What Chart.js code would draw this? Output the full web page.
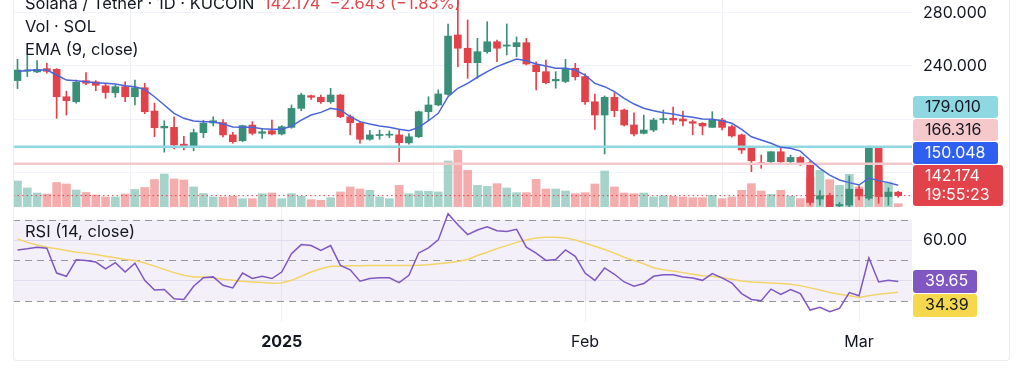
<!DOCTYPE html>
<html>
<head>
<meta charset="utf-8">
<script src="https://cdn.jsdelivr.net/npm/chart.js@4.4.1/dist/chart.umd.min.js"></script>
<style>
  body{margin:0;background:#fff;}
  #wrap{position:relative;width:1024px;height:374px;overflow:hidden;background:#fff;font-family:Inter,"Noto Sans",sans-serif;}
  #wrap canvas{position:absolute;left:0;}
  .lbl{position:absolute;left:25px;font-size:16.5px;line-height:18px;color:#131722;white-space:pre;}
  .red{color:#e0464e;}
  #frame{position:absolute;left:13px;top:-4px;width:995px;height:364px;border:1px solid #ececec;border-top:none;border-radius:0 0 4px 4px;pointer-events:none;}
</style>
</head>
<body>
<div id="wrap">
  <canvas id="priceCanvas" width="1024" height="207" style="top:0"></canvas>
  <canvas id="rsiCanvas" width="1024" height="167" style="top:207px"></canvas>
  <div id="frame"></div>
  <div class="lbl" style="top:-6px">Solana / Tether · 1D · KUCOIN  <span class="red" id="lastInfo"></span></div>
  <div class="lbl" style="top:17px">Vol · SOL</div>
  <div class="lbl" style="top:40px">EMA (9, close)</div>
  <div class="lbl" style="top:222px">RSI (14, close)</div>
</div>
<script>
/* Daily candles, 5 Dec 2024 .. 5 Mar 2025 (index 0 = 5 Dec) */
const openP=[229,236,235.5,238,237.5,216.8,213,228.9,228,225,
  219.8,224.4,216.8,223.6,206,193.3,193.7,181,179.6,189.7,
  197,197.3,188,183.6,195.4,189.2,191.2,188.7,193.7,208,
  217.6,216.4,213,218.1,201.7,196.8,184.7,187.5,187.8,188,
  182,186.6,205.5,210.6,218.6,263.4,253.4,242.5,250.8,258.3,
  255,254.6,257.6,240.8,235.7,228.8,228.3,238.3,232,213,
  203,216.4,206.8,195.5,189.2,191.7,199.5,200.5,200,198,
  196.8,193.7,199.2,194.2,188,177.9,167,167.8,175.3,167.8,
  171,167,139.6,142.3,134.5,135,147,140.2,177.9,141.5,
  144.817];
const highP=[245,248,244,242,238,221,229.4,235,229,227,
  225.7,228,229.4,227,212,198.7,201.7,187,192.4,199,
  201.7,199.5,190,195.3,198,193,199.2,195,210.6,219.4,
  218.1,218.1,223.2,218.6,203,198,191.4,191.7,191,191.7,
  189,206,216.8,222,271.7,295,274.7,260.9,273.4,259.6,
  271.7,262,260.9,243.2,244.5,235.7,245,242,234,218.9,
  217.4,219.8,207.5,204.7,203,200.5,206.8,209,206,199.2,
  197.3,205.5,200.5,195.5,188.7,179.1,172.8,175.5,179.1,172.8,
  172,168.5,146,144,137,157,149.5,179.5,179.1,148,
  145.5];
const lowP=[223,232,235,234.5,200.5,203,212,226,221.4,215.6,
  216.4,213,210.6,204,186.6,175,177.4,176.6,176,186,
  194.7,186.4,181.7,182.9,188,185.4,188,188,193,206.2,
  214.7,211.7,211.8,201,188,181.7,184,184.7,186,167.8,
  181,186,198.7,210,217.9,239.5,230.7,230.7,249.6,243.2,
  248.3,247,240.8,221.9,226.4,223.2,227.4,229.4,211,192.2,
  173.6,201.7,194.7,187.2,188.7,190.4,196.8,196,194.7,188,
  188,193.7,191.7,186.2,174,160.2,162.8,167,166.6,167,
  165,135,135,130,127,133,138.9,139,136.4,135,
  141];
const closeP=[237,237,237.5,236,216.8,213.8,227.7,227,225.4,220,
  224.4,216.8,223.6,205.5,193.4,194.5,180.4,179.5,189.7,196.8,
  198.7,188,182.9,195,189.2,190.4,188.7,194.2,208,218.1,
  216.4,213,218.1,201.7,197.2,184.7,188,188.3,188.3,182.1,
  186.6,205.5,210.6,218.9,262.6,253.4,242.5,250.8,258.3,253.4,
  255.9,257.6,241.5,235.7,227.4,229.9,238.3,231.9,213,203,
  216.4,206.3,195.5,188.7,191.7,199.2,200.3,199.2,198.5,196.8,
  194.7,199.2,193.7,187.2,176.6,168.5,166,175.3,167.8,171,
  167,137,142,133.5,135.5,147,141.9,177.9,141.5,144.817,
  142.174];
/* Volume in thousand SOL */
const volume=[780,570,420,390,735,690,510,435,360,300,
  300,390,525,585,825,990,840,810,600,405,
  300,300,320,250,250,400,420,250,400,320,
  220,200,280,450,600,540,500,300,250,650,
  400,480,470,450,1380,1700,1100,650,620,700,
  570,430,430,830,540,540,480,400,430,690,
  1080,600,420,400,420,300,340,320,300,280,
  280,350,250,300,500,700,480,380,500,320,
  250,900,1100,820,650,980,600,1200,1200,750,
  100];
const ema9=[235.7,236.7,237,237,233.2,229.4,228.9,228.2,227.4,226.9,
  226.4,225.1,224.4,222.4,216.8,210.6,204.3,200.5,198.5,198,
  198,196.2,194,193.7,193.7,192.7,192.2,192.2,194.7,199.2,
  203,205,208.1,206.8,201.8,198,196.2,194.7,193.7,192.2,
  191.2,193.7,198.7,204.3,216.8,223.2,226.9,231.5,235.7,239.5,
  242.5,245.3,244,241.5,240,238.3,238.3,237,233.2,226.9,
  224.4,220.6,215.6,211.3,208.1,206.3,204.8,203.8,202.3,201.3,
  200,199.8,198.7,196.8,192.2,186.6,184.2,181.7,178.6,177.9,
  175.8,169.1,162.8,157.7,154,152,150.2,155.5,153.5,152,
  150.048];
const rsi14=[55.1,55.7,56.5,56,43.8,42.2,50.3,50,49.2,45.9,
  48.9,44.3,48.7,40.2,35.4,35.7,31.1,30.8,37.3,41.5,
  41.9,37.8,36.5,43.8,41.1,42.2,41.1,44.3,53.3,57.8,
  57.3,54.9,57.3,47.6,45.4,39.8,41.1,41.5,41.5,39.1,
  42.7,53.7,56.2,60.1,73,67.6,62.7,65,66.6,64.6,
  64.3,65.3,56.5,53.6,50,50.5,55.2,52,43.8,40.2,
  46.3,43.2,39.4,37.3,38.6,42.2,43,43,41.9,41.4,
  40.2,43.5,41.4,38.9,33.7,30.8,30.2,35.9,33.3,35.7,
  33.7,25.6,26.9,24.8,26.4,34.2,32.6,51.3,39.4,40.2,
  39.65];
const rsiMa=[60.6,58.9,57.6,56.5,55.7,54.9,54,53.6,52.9,52.1,
  51.3,50.5,50,48.7,47.2,45.6,44,42.7,41.9,41.9,
  41.5,40.7,40.2,39.8,39.4,39.1,38.8,38.9,40.2,42.2,
  44.3,45.9,47.1,47.2,47.4,47.4,47.5,47.5,47.5,47.5,
  47.5,47.6,47.9,48.4,48.9,49.5,50.5,52.4,54,55.8,
  57.3,58.9,60.1,61.1,61.4,61.4,61.1,60.1,58.6,57,
  55.4,53.6,51.6,50,48.4,46.4,45.4,44.8,44,43.2,
  42.5,42.2,41.5,40.7,39.9,39.4,39.1,38.9,38.6,38.3,
  37.6,36.5,35.4,34.2,33.4,32.6,31.8,32.6,33.3,33.8,
  34.39];
/* Horizontal levels drawn on the chart */
const levels=[179.010,166.316];
/* Time axis */
const tickDays=[27,58,86];
const tickLabels=['2025','Feb','Mar'];
const priceTicks=[160,200,240,280];
const priceTicksShown=[240,280];
const rsiTicks=[40,60];
const rsiTicksShown=[60];
const countdown='19:55:23';

const upColor='#3a8f78';
const downColor='#e2434b';
const upVol='rgba(58,160,140,0.45)';
const downVol='rgba(236,90,90,0.5)';
const fontFamily='Inter, "Noto Sans", sans-serif';
const xMin=-0.46, xMax=91.41;

/* Legend values */
const last=closeP.length-1;
const change=closeP[last]-closeP[last-1];
const fmtSigned=(v,d)=>(v<0?'\u2212':'+')+Math.abs(v).toFixed(d);
lastInfo.textContent=closeP[last].toFixed(3)+'  '+fmtSigned(change,3)+' ('+fmtSigned(change/closeP[last-1]*100,2)+'%)';

const days=closeP.map((_,i)=>i);
const isUp=days.map(i=>closeP[i]>=openP[i]);

function roundBox(ctx,x,y,w,h,r) {
  ctx.beginPath();
  if (ctx.roundRect) ctx.roundRect(x,y,w,h,r); else ctx.rect(x,y,w,h);
  ctx.fill();
}

function drawTag(ctx,x,top,t) {
  ctx.fillStyle=t.bg;
  roundBox(ctx,x,top,t.w,t.h,3);
  ctx.fillStyle=t.fg;
  ctx.textBaseline='middle';
  ctx.textAlign='left';
  t.lines.forEach((s,k)=>ctx.fillText(s,x+12,top+11.5+k*18.5));
}

/**
 * Price tags on the right scale, stacked upward from the pane bottom.
 */
const priceTags={
  id:'priceTags',
  afterDraw(chart) {
    const {ctx,chartArea}=chart;
    const y=chart.scales.y;
    const tags=[
      {v:closeP[last], lines:[closeP[last].toFixed(3),countdown], bg:downColor, fg:'#fff', w:90, h:41},
      {v:ema9[last], lines:[ema9[last].toFixed(3)], bg:'#2f5ff0', fg:'#fff', w:85, h:22},
      {v:levels[1], lines:[levels[1].toFixed(3)], bg:'#f5c8cb', fg:'#131722', w:85, h:22},
      {v:levels[0], lines:[levels[0].toFixed(3)], bg:'#8fd7e1', fg:'#131722', w:85, h:22}
    ];
    let limit=chartArea.bottom-1;
    ctx.save();
    ctx.font='16px '+fontFamily;
    tags.forEach(t=>{
      let top=y.getPixelForValue(t.v)-t.h/2;
      if (top+t.h>limit) top=limit-t.h;
      drawTag(ctx,chartArea.right+1,top,t);
      limit=top-1;
    });
    ctx.restore();
  }
};

/**
 * RSI band, dashed levels and value tags.
 */
const rsiBand={
  id:'rsiBand',
  beforeDatasetsDraw(chart) {
    const {ctx,chartArea}=chart;
    const y=chart.scales.y;
    ctx.save();
    ctx.fillStyle='rgba(126,87,194,0.09)';
    ctx.fillRect(chartArea.left,y.getPixelForValue(70),chartArea.right-chartArea.left,y.getPixelForValue(30)-y.getPixelForValue(70));
    ctx.strokeStyle='#9598a1';
    ctx.lineWidth=1;
    ctx.setLineDash([7,5]);
    [70,50,30].forEach(v=>{
      const py=Math.round(y.getPixelForValue(v))+0.5;
      ctx.beginPath(); ctx.moveTo(chartArea.left,py); ctx.lineTo(chartArea.right,py); ctx.stroke();
    });
    ctx.restore();
  },
  afterDraw(chart) {
    const {ctx,chartArea}=chart;
    const y=chart.scales.y;
    ctx.save();
    ctx.font='16px '+fontFamily;
    const a={lines:[rsi14[last].toFixed(2)], bg:'#7e57c2', fg:'#fff', w:64, h:23};
    const b={lines:[rsiMa[last].toFixed(2)], bg:'#f6d84c', fg:'#131722', w:64, h:23};
    const topA=y.getPixelForValue(rsi14[last])-a.h/2;
    let topB=y.getPixelForValue(rsiMa[last])-b.h/2;
    if (topB<topA+a.h+1) topB=topA+a.h+1;
    drawTag(ctx,chartArea.right+1,topA,a);
    drawTag(ctx,chartArea.right+1,topB,b);
    ctx.restore();
  }
};

const xScale=(showLabels)=>({
  type:'linear', min:xMin, max:xMax, offset:false,
  afterBuildTicks: s=>{s.ticks=tickDays.map(v=>({value:v}));},
  ticks:{
    display:showLabels, autoSkip:false, maxRotation:0, padding:11, color:'#131722',
    callback: v=>tickLabels[tickDays.indexOf(v)],
    font: ctx=>({family:fontFamily, size:16, weight:(ctx.tick && ctx.tick.value===tickDays[0])?'bold':'normal'})
  },
  grid:{color:'#eef0f4', drawTicks:false},
  border:{display:false},
  afterFit: s=>{s.height=showLabels?52:0; s.paddingLeft=0; s.paddingRight=0;}
});

/* Right-hand value scale: fixed width, no label overhang padding */
const fitRightScale=s=>{s.width=112; s.paddingTop=0; s.paddingBottom=0;};

new Chart(priceCanvas,{
  type:'bar',
  data:{datasets:[
    {type:'line', data:days.map(i=>({x:i,y:ema9[i]})), borderColor:'#4a64da', borderWidth:1.5, pointRadius:0, order:1},
    {type:'line', data:[{x:xMin,y:levels[0]},{x:xMax,y:levels[0]}], borderColor:'#8fd7e1', borderWidth:2.5, pointRadius:0, order:2},
    {type:'line', data:[{x:xMin,y:levels[1]},{x:xMax,y:levels[1]}], borderColor:'#f5c8cb', borderWidth:2.5, pointRadius:0, order:2},
    {type:'line', data:[{x:xMin,y:closeP[last]},{x:xMax,y:closeP[last]}], borderColor:downColor, borderWidth:1, borderDash:[1.5,3], pointRadius:0, order:9},
    {data:days.map(i=>({x:i,y:[openP[i],closeP[i]]})), backgroundColor:days.map(i=>isUp[i]?upColor:downColor), barThickness:7, minBarLength:1, grouped:false, order:3},
    {data:days.map(i=>({x:i,y:[lowP[i],highP[i]]})), backgroundColor:days.map(i=>isUp[i]?upColor:downColor), barThickness:1, grouped:false, order:4},
    {data:days.map(i=>({x:i,y:volume[i]})), yAxisID:'yv', backgroundColor:days.map(i=>isUp[i]?upVol:downVol), barThickness:8, grouped:false, order:10}
  ]},
  options:{
    responsive:false, animation:false, events:[],
    layout:{autoPadding:false, padding:{left:13,right:0,top:0,bottom:0}},
    plugins:{legend:{display:false}, tooltip:{enabled:false}},
    scales:{
      x:xScale(false),
      y:{
        position:'right', min:133.6, max:289.8,
        afterBuildTicks: s=>{s.ticks=priceTicks.map(v=>({value:v}));},
        ticks:{padding:11, color:'#131722', font:{family:fontFamily,size:16}, callback: v=>priceTicksShown.includes(v)?v.toFixed(3):''},
        grid:{color:'#f0f3fa', drawTicks:false},
        border:{display:false},
        afterFit: fitRightScale
      },
      yv:{display:false, min:0, max:6210}
    }
  },
  plugins:[priceTags]
});

new Chart(rsiCanvas,{
  type:'line',
  data:{datasets:[
    {data:days.map(i=>({x:i,y:rsi14[i]})), borderColor:'#7e57c2', borderWidth:1.5, pointRadius:0, order:1},
    {data:days.map(i=>({x:i,y:rsiMa[i]})), borderColor:'#f3d469', borderWidth:1.5, pointRadius:0, order:2}
  ]},
  options:{
    responsive:false, animation:false, events:[],
    layout:{autoPadding:false, padding:{left:13,right:0,top:0,bottom:0}},
    plugins:{legend:{display:false}, tooltip:{enabled:false}},
    scales:{
      x:xScale(true),
      y:{
        position:'right', min:19.7, max:76.3,
        afterBuildTicks: s=>{s.ticks=rsiTicks.map(v=>({value:v}));},
        ticks:{padding:11, color:'#131722', font:{family:fontFamily,size:16}, callback: v=>rsiTicksShown.includes(v)?v.toFixed(2):''},
        grid:{color:'#ebe8f2', drawTicks:false},
        border:{display:false},
        afterFit: fitRightScale
      }
    }
  },
  plugins:[rsiBand]
});
</script>
</body>
</html>
